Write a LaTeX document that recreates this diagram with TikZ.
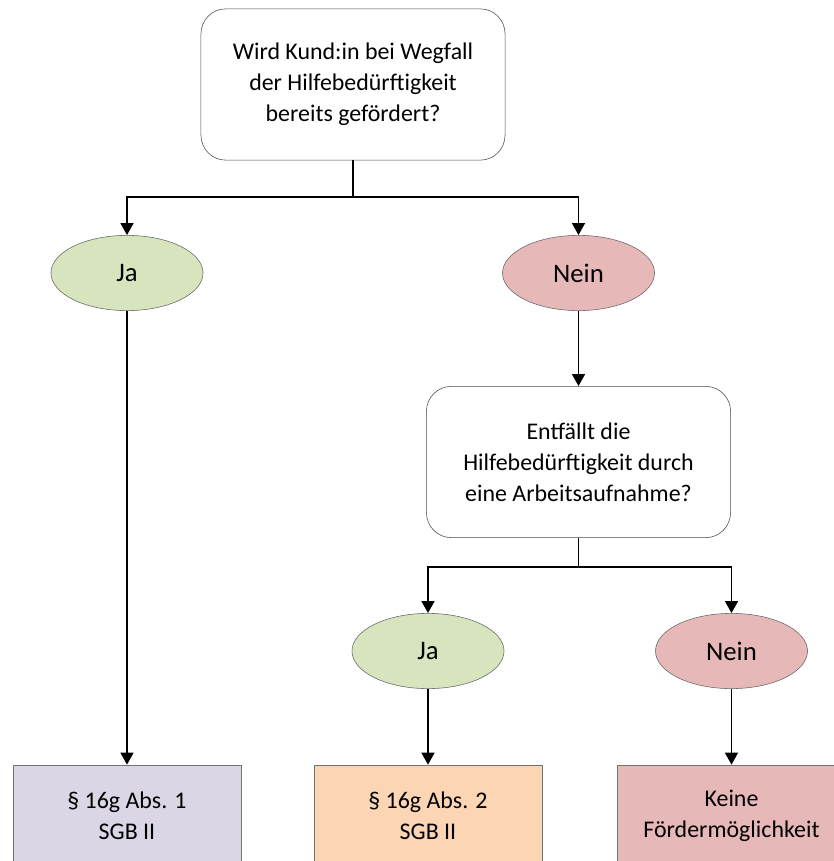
\documentclass[tikz,border=0pt]{standalone}
\usepackage{fontspec}
\setmainfont{Carlito}
\usetikzlibrary{arrows.meta, positioning, shapes.geometric}

\definecolor{jafill}{HTML}{D7E4BD}
\definecolor{neinfill}{HTML}{E6B9B8}
\definecolor{absonefill}{HTML}{DAD6E6}
\definecolor{abstwofill}{HTML}{FCD5B5}

\tikzset{
  question/.style={draw=black!70, rounded corners=0.62cm, fill=white,
    minimum width=7.6cm, minimum height=3.78cm, align=center},
  choice/.style={ellipse, draw=black!60, minimum width=3.8cm, minimum height=1.88cm,
    font=\fontsize{19}{23}\selectfont},
  result/.style={draw=black!55, minimum width=5.7cm, minimum height=2.55cm, align=center},
  flow/.style={line width=1.4pt, -{Triangle[width=0.32cm,length=0.3cm]}},
  plain/.style={line width=1.4pt}
}

\begin{document}
\begin{tikzpicture}[x=0.025cm, y=-0.025cm, font=\fontsize{17}{22}\selectfont]
\useasboundingbox (0,0) rectangle (834,861);
\clip (0,0) rectangle (834,861);

\node (Q1) [question] at (353,84.5) {Wird Kund:in bei Wegfall\\der Hilfebedürftigkeit\\bereits gefördert?};
\node (JaA) [choice, fill=jafill] at (127,273) {Ja};
\node (NeinA) [choice, fill=neinfill] at (578.5,273) {Nein};
\node (Q2) [question] at (578.5,462) {Entfällt die\\Hilfebedürftigkeit durch\\eine Arbeitsaufnahme?};
\node (JaB) [choice, fill=jafill] at (428,651) {Ja};
\node (NeinB) [choice, fill=neinfill] at (731.5,651) {Nein};
\node (AbsOne) [result, fill=absonefill] at (127,816) {§ 16g Abs. 1\\SGB II};
\node (AbsTwo) [result, fill=abstwofill] at (428,816) {§ 16g Abs. 2\\SGB II};
\node (Keine) [result, fill=neinfill] at (731.5,816) {Keine\\Fördermöglichkeit};

\coordinate (SplitA) at (353,197);
\coordinate (SplitB) at (578.5,567);

\draw[plain] (Q1) -- (SplitA);
\draw[flow] (SplitA) -| (JaA);
\draw[flow] (SplitA) -| (NeinA);
\draw[flow] (JaA) -- (AbsOne);
\draw[flow] (NeinA) -- (Q2);
\draw[plain] (Q2) -- (SplitB);
\draw[flow] (SplitB) -| (JaB);
\draw[flow] (SplitB) -| (NeinB);
\draw[flow] (JaB) -- (AbsTwo);
\draw[flow] (NeinB) -- (Keine);
\end{tikzpicture}
\end{document}
